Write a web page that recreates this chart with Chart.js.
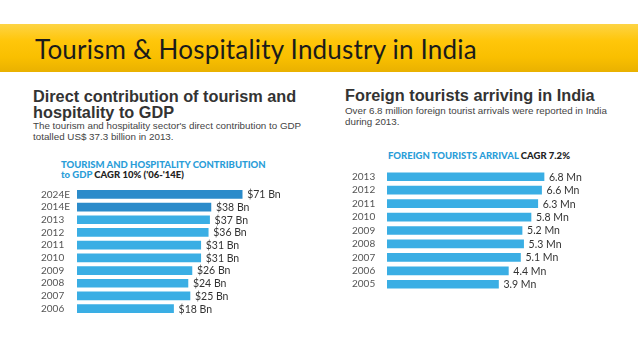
<!DOCTYPE html>
<html>
<head>
<meta charset="utf-8">
<script src="https://cdn.jsdelivr.net/npm/chart.js@4.4.1/dist/chart.umd.min.js"></script>
<style>
  html, body { margin:0; padding:0; background:#fff; }
  #page { position:relative; width:638px; height:359px; overflow:hidden; background:#fff; }
  #banner { position:absolute; left:0; top:24px; width:638px; height:48px;
    background:linear-gradient(#fdd445 0%, #ffc60a 35%, #f9bf00 70%, #e9b100 100%); }
  #title { position:absolute; left:35px; top:36px; font-family:Lato, sans-serif; font-size:26px; line-height:26px; letter-spacing:0.2px; color:#1b1b1b; white-space:nowrap; }
  .h { position:absolute; font-family:"Liberation Sans", Arial, sans-serif; font-weight:bold; font-size:16.3px; line-height:16px; color:#333; white-space:nowrap; }
  .s { position:absolute; font-family:"Liberation Sans", Arial, sans-serif; font-size:9.8px; line-height:11px; color:#444; white-space:nowrap; }
  .c { position:absolute; font-family:Lato, sans-serif; font-weight:900; font-size:9.5px; line-height:10px; color:#2a9dd8; white-space:nowrap; }
  .c b { color:#222; font-weight:900; }
  canvas { position:absolute; }
</style>
</head>
<body>
<div id="page">
  <div id="banner"></div>
  <div id="title">Tourism &amp; Hospitality Industry in India</div>

  <div class="h" style="left:33px; top:87.5px;">Direct contribution of tourism and<br>hospitality to GDP</div>
  <div class="s" style="left:33px; top:119.8px;">The tourism and hospitality sector's direct contribution to GDP<br>totalled US$ 37.3 billion in 2013.</div>
  <div class="c" style="left:61px; top:160px;">TOURISM AND HOSPITALITY CONTRIBUTION<br>to GDP <b>CAGR 10% ('06-'14E)</b></div>

  <div class="h" style="left:345px; top:87.2px;">Foreign tourists arriving in India</div>
  <div class="s" style="left:345px; top:105.4px;">Over 6.8 million foreign tourist arrivals were reported in India<br>during 2013.</div>
  <div class="c" style="left:388px; top:151px;">FOREIGN TOURISTS ARRIVAL <b>CAGR 7.2%</b></div>

  <canvas id="gdp" width="250" height="139" style="left:41px; top:182px;"></canvas>
  <canvas id="arr" width="250" height="133" style="left:352px; top:164px;"></canvas>
</div>
<script>
// ---- data ----
const gdpYears = ['2024E', '2014E', '2013', '2012', '2011', '2010', '2009', '2008', '2007', '2006'];
const gdpValues = [71, 38, 37, 36, 31, 31, 26, 24, 25, 18];           // US$ billion
const arrivalYears = ['2013', '2012', '2011', '2010', '2009', '2008', '2007', '2006', '2005'];
const arrivalValues = [6.8, 6.6, 6.3, 5.8, 5.2, 5.3, 5.1, 4.4, 3.9];  // million

const LIGHT = '#3aaee4';
const DARK = '#2b8bca';

const valueLabels = {
  id: 'valueLabels',
  afterDatasetsDraw(chart, args, opts) {
    const ctx = chart.ctx;
    const meta = chart.getDatasetMeta(0);
    ctx.save();
    ctx.font = opts.font;
    ctx.fillStyle = opts.color;
    ctx.textBaseline = 'middle';
    ctx.textAlign = 'left';
    meta.data.forEach((bar, i) => {
      ctx.fillText(opts.texts[i], bar.x + opts.gap, bar.y + 0.5);
    });
    ctx.restore();
  }
};

function makeChart(id, labels, values, colors, texts, xmin, xmax, axisW) {
  return new Chart(document.getElementById(id), {
    type: 'bar',
    data: {
      labels: labels,
      datasets: [{ data: values, backgroundColor: colors, borderWidth: 0, barThickness: 8 }]
    },
    options: {
      indexAxis: 'y',
      responsive: false,
      animation: false,
      layout: { padding: 0 },
      plugins: {
        legend: { display: false },
        tooltip: { enabled: false },
        valueLabels: { texts: texts, gap: 5, font: '10.5px Lato', color: '#333' }
      },
      scales: {
        x: { type: 'logarithmic', min: xmin, max: xmax, display: false },
        y: {
          grid: { display: false },
          border: { display: false },
          ticks: { autoSkip: false, crossAlign: 'far', padding: 0, color: '#555', font: { family: 'Lato', size: 10 } },
          afterFit(scale) { scale.width = axisW; }
        }
      }
    },
    plugins: [valueLabels]
  });
}

makeChart('gdp', gdpYears, gdpValues,
  gdpYears.map(y => y.endsWith('E') ? DARK : LIGHT),
  gdpValues.map(v => '$' + v + ' Bn'),
  2.61, 188.5, 36);

makeChart('arr', arrivalYears, arrivalValues,
  arrivalYears.map(() => LIGHT),
  arrivalValues.map(v => v.toFixed(1) + ' Mn'),
  1, 13.8, 35);
</script>
</body>
</html>
